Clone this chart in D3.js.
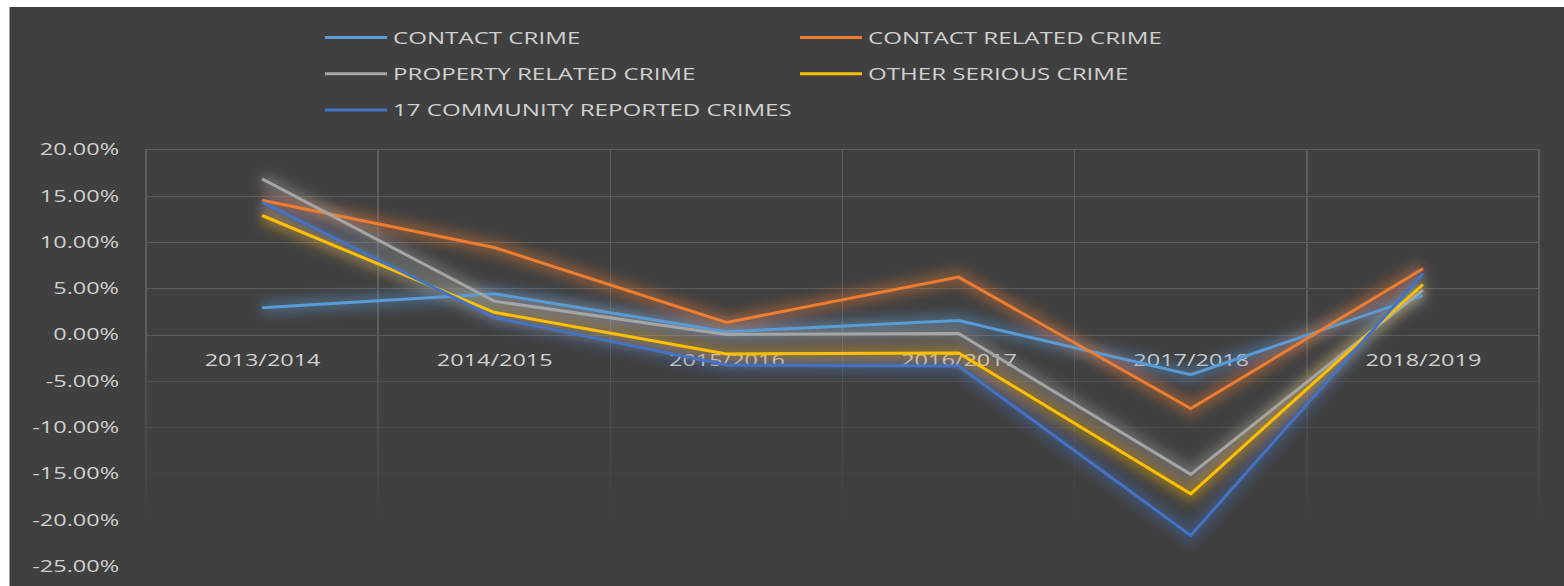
<!DOCTYPE html>
<meta charset="utf-8">
<body>
<style>

body {
  margin: 0;
  background: #fff;
}

text {
  font-family: "Open Sans", sans-serif;
  font-size: 17px;
  fill: #d0d0d0;
}

.grid line {
  stroke: #5c5c5c;
  stroke-width: 1.5px;
  shape-rendering: crispEdges;
}

.series {
  fill: none;
  stroke-width: 3px;
  stroke-linejoin: miter;
}

.glow {
  fill: none;
  stroke-width: 14px;
  stroke-opacity: 0.4;
}

</style>
<script src="https://d3js.org/d3.v7.min.js"></script>
<script>

var years = ["2013/2014", "2014/2015", "2015/2016", "2016/2017", "2017/2018", "2018/2019"];

var contactCrime   = [2.9, 4.4, 0.3, 1.5, -4.35, 4.2];
var contactRelated = [14.5, 9.4, 1.3, 6.2, -8.0, 7.1];
var propertyRelated = [16.8, 3.6, 0.0, 0.1, -15.1, 4.8];
var otherSerious   = [12.85, 2.4, -2.1, -2.0, -17.2, 5.4];
var community17    = [14.3, 1.85, -3.3, -3.4, -21.7, 6.6];

var seriesNames = ["CONTACT CRIME", "CONTACT RELATED CRIME", "PROPERTY RELATED CRIME",
                   "OTHER SERIOUS CRIME", "17 COMMUNITY REPORTED CRIMES"];
var seriesColors = ["#5B9BD5", "#ED7D31", "#A5A5A5", "#FFC000", "#4472C4"];

var yTicks = [20, 15, 10, 5, 0, -5, -10, -15, -20, -25];

var series = [contactCrime, contactRelated, propertyRelated, otherSerious, community17]
  .map(function(v, i) { return { name: seriesNames[i], color: seriesColors[i], values: v }; });

var width = 1564, height = 586;
var sx = 1.38;  // text in the picture is stretched sideways
var sxLegend = 1.42;

var svg = d3.select("body").append("svg")
    .attr("width", width)
    .attr("height", height);

svg.append("rect")
    .attr("x", 9.5)
    .attr("y", 7)
    .attr("width", width)
    .attr("height", height)
    .attr("fill", "#404040");

var defs = svg.append("defs");

var fade = defs.append("linearGradient")
    .attr("id", "fade")
    .attr("gradientUnits", "userSpaceOnUse")
    .attr("x1", 0).attr("x2", 0)
    .attr("y1", 330).attr("y2", 525);
fade.append("stop").attr("offset", 0).attr("stop-color", "#fff");
fade.append("stop").attr("offset", 0.25).attr("stop-color", "#999");
fade.append("stop").attr("offset", 1).attr("stop-color", "#000");

defs.append("mask")
    .attr("id", "gridmask")
    .attr("maskUnits", "userSpaceOnUse")
    .attr("x", 0).attr("y", 0).attr("width", width).attr("height", height)
  .append("rect")
    .attr("width", width)
    .attr("height", height)
    .attr("fill", "url(#fade)");

defs.append("filter")
    .attr("id", "blur")
    .attr("x", "-20%").attr("y", "-20%")
    .attr("width", "140%").attr("height", "140%")
  .append("feGaussianBlur")
    .attr("stdDeviation", 6);

var plotLeft = 146, plotRight = 1539, plotTop = 149.3, plotBottom = 566;

var x = d3.scalePoint()
    .domain(years)
    .range([plotLeft, plotRight])
    .padding(0.5);

var y = d3.scaleLinear()
    .domain([-25, 20])
    .range([plotBottom, plotTop]);

// gridlines
var grid = svg.append("g")
    .attr("class", "grid")
    .attr("mask", "url(#gridmask)");

grid.selectAll(".h")
    .data(yTicks)
  .enter().append("line")
    .attr("x1", plotLeft)
    .attr("x2", plotRight)
    .attr("y1", function(d) { return Math.round(y(d)) + 0.5; })
    .attr("y2", function(d) { return Math.round(y(d)) + 0.5; });

var step = x.step();
grid.selectAll(".v")
    .data(d3.range(years.length + 1))
  .enter().append("line")
    .attr("x1", function(i) { return plotLeft + i * step; })
    .attr("x2", function(i) { return plotLeft + i * step; })
    .attr("y1", plotTop)
    .attr("y2", plotBottom);

// y axis labels
var yAxis = svg.append("g")
    .attr("transform", "translate(" + plotLeft + ",0)")
    .call(d3.axisLeft(y).tickValues(yTicks).tickSize(0).tickPadding(27)
      .tickFormat(function(d) { return d.toFixed(2) + "%"; }));
yAxis.select(".domain").remove();
yAxis.selectAll("text")
    .attr("x", -27 / sx)
    .attr("transform", "scale(" + sx + ",1)")
    .style("font-size", "17px")
    .style("font-family", "'Open Sans', sans-serif")
    .attr("fill", "#d0d0d0");

// category labels across the zero line
var xAxis = svg.append("g")
    .attr("transform", "translate(0," + y(0) + ")")
    .call(d3.axisBottom(x).tickSize(0).tickPadding(19));
xAxis.select(".domain").remove();
xAxis.selectAll("text")
    .attr("transform", "scale(" + sx + ",1)")
    .style("font-size", "17px")
    .style("font-family", "'Open Sans', sans-serif")
    .attr("fill", "#d0d0d0");

var line = d3.line()
    .x(function(d, i) { return x(years[i]); })
    .y(function(d) { return y(d); });

// soft glow under each line
svg.append("g")
    .attr("filter", "url(#blur)")
  .selectAll("path")
    .data(series)
  .enter().append("path")
    .attr("class", "glow")
    .attr("stroke", function(d) { return d.color; })
    .attr("d", function(d) { return line(d.values); });

svg.append("g")
  .selectAll("path")
    .data(series)
  .enter().append("path")
    .attr("class", "series")
    .attr("stroke", function(d) { return d.color; })
    .attr("d", function(d) { return line(d.values); });

// legend, two columns
var legend = svg.append("g")
  .selectAll("g")
    .data(series)
  .enter().append("g")
    .attr("transform", function(d, i) {
      return "translate(" + (i % 2 ? 800 : 325) + "," + (37.5 + Math.floor(i / 2) * 36.2) + ")";
    });

legend.append("line")
    .attr("x1", 0)
    .attr("x2", 62)
    .attr("stroke", function(d) { return d.color; })
    .attr("stroke-width", 3);

legend.append("text")
    .attr("x", 68 / sxLegend)
    .attr("dy", "0.36em")
    .attr("transform", "scale(" + sxLegend + ",1)")
    .text(function(d) { return d.name; });

</script>
</body>
</html>
